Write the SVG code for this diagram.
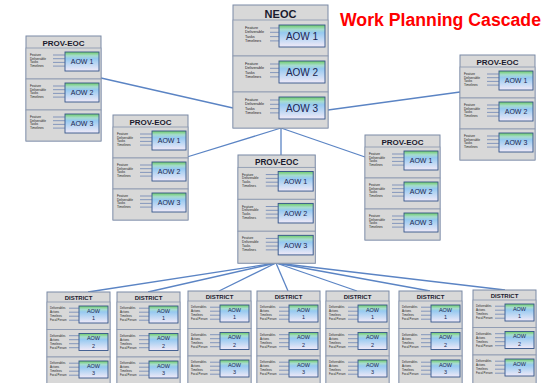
<svg xmlns="http://www.w3.org/2000/svg" width="547" height="383" viewBox="0 0 547 383">
<defs>
<linearGradient id="g" x1="0" y1="0" x2="0" y2="1">
<stop offset="0" stop-color="#6fcc66"/>
<stop offset="0.2" stop-color="#a6dccf"/>
<stop offset="0.35" stop-color="#96c9f0"/>
<stop offset="1" stop-color="#f1eaf8"/>
</linearGradient>
<style>
.box{fill:#d8d8d8;stroke:#7a8aa6;stroke-width:1}
.sec{fill:#d8d8d8;stroke:#8896ae;stroke-width:0.8}
.aow{fill:url(#g);stroke:#34558a;stroke-width:0.9}
.hd{font-family:"Liberation Sans",Arial,sans-serif;font-weight:bold;fill:#1a1a2e;text-anchor:middle}
.at{font-family:"Liberation Sans",Arial,sans-serif;fill:#1a2550;text-anchor:middle}
.tt{font-family:"Liberation Sans",Arial,sans-serif;fill:#222;font-size:3.2px}
.tn{font-size:3.8px}
.td{font-size:2.8px}
.tl{stroke:#4a6aa8;stroke-width:0.6;fill:none}
.cn{stroke:#5b84c4;stroke-width:1.3;fill:none}
.title{font-family:"Liberation Sans",Arial,sans-serif;font-weight:bold;fill:#ff0000;font-size:18px}
</style>
</defs>
<rect width="547" height="383" fill="#ffffff"/>
<text class="title" x="340" y="26" textLength="201" lengthAdjust="spacingAndGlyphs">Work Planning Cascade</text>

<g id="connectors">
<path class="cn" d="M101 78 L233 108"/>
<path class="cn" d="M328 110 L460 92"/>
<path class="cn" d="M281 128 L187 157"/>
<path class="cn" d="M281 128 L281 155"/>
<path class="cn" d="M281 128 L365 157"/>
<path class="cn" d="M276 263 L88 292"/>
<path class="cn" d="M276 263 L148 292"/>
<path class="cn" d="M276 263 L219 291"/>
<path class="cn" d="M276 263 L288 291"/>
<path class="cn" d="M276 263 L357 291"/>
<path class="cn" d="M276 263 L430 291"/>
<path class="cn" d="M276 263 L505 290"/>
</g>

<g id="neoc" transform="translate(233,5)">
<rect class="box" width="95" height="123"/>
<text class="hd" x="47.5" y="12.5" font-size="11">NEOC</text>
<rect class="sec" x="0" y="15" width="95" height="36"/>
<rect class="sec" x="0" y="51" width="95" height="36"/>
<rect class="sec" x="0" y="87" width="95" height="36"/>
<rect class="aow" x="46" y="20" width="46" height="22"/>
<text class="at" x="69" y="34.5" font-size="10">AOW 1</text>
<text class="tt tn"><tspan x="12" y="24">Feature</tspan><tspan x="12" y="28.3">Deliverable</tspan><tspan x="12" y="32.6">Tasks</tspan><tspan x="12" y="36.9">Timelines</tspan></text>
<path class="tl" d="M37 23H46M37 27.3H46M37 31.6H46M37 35.9H46"/>
<rect class="aow" x="46" y="56" width="46" height="22"/>
<text class="at" x="69" y="70.5" font-size="10">AOW 2</text>
<text class="tt tn"><tspan x="12" y="60">Feature</tspan><tspan x="12" y="64.3">Deliverable</tspan><tspan x="12" y="68.6">Tasks</tspan><tspan x="12" y="72.9">Timelines</tspan></text>
<path class="tl" d="M37 59H46M37 63.3H46M37 67.6H46M37 71.9H46"/>
<rect class="aow" x="46" y="92" width="46" height="22"/>
<text class="at" x="69" y="106.5" font-size="10">AOW 3</text>
<text class="tt tn"><tspan x="12" y="96">Feature</tspan><tspan x="12" y="100.3">Deliverable</tspan><tspan x="12" y="104.6">Tasks</tspan><tspan x="12" y="108.9">Timelines</tspan></text>
<path class="tl" d="M37 95H46M37 99.3H46M37 103.6H46M37 107.9H46"/>
</g>

<g id="prov-left" transform="translate(26,36)">
<rect class="box" width="75" height="105"/>
<text class="hd" x="37.5" y="9.5" font-size="8">PROV-EOC</text>
<rect class="sec" x="0" y="12" width="75" height="31"/>
<rect class="sec" x="0" y="43" width="75" height="31"/>
<rect class="sec" x="0" y="74" width="75" height="31"/>
<rect class="aow" x="39" y="16" width="34" height="19"/>
<text class="at" x="56" y="28" font-size="7">AOW 1</text>
<text class="tt"><tspan x="4" y="20">Feature</tspan><tspan x="4" y="23.7">Deliverable</tspan><tspan x="4" y="27.4">Tasks</tspan><tspan x="4" y="31.1">Timelines</tspan></text>
<path class="tl" d="M27 19H39M27 22.7H39M27 26.4H39M27 30.1H39"/>
<rect class="aow" x="39" y="47" width="34" height="19"/>
<text class="at" x="56" y="59" font-size="7">AOW 2</text>
<text class="tt"><tspan x="4" y="51">Feature</tspan><tspan x="4" y="54.7">Deliverable</tspan><tspan x="4" y="58.4">Tasks</tspan><tspan x="4" y="62.1">Timelines</tspan></text>
<path class="tl" d="M27 50H39M27 53.7H39M27 57.4H39M27 61.1H39"/>
<rect class="aow" x="39" y="78" width="34" height="19"/>
<text class="at" x="56" y="90" font-size="7">AOW 3</text>
<text class="tt"><tspan x="4" y="82">Feature</tspan><tspan x="4" y="85.7">Deliverable</tspan><tspan x="4" y="89.4">Tasks</tspan><tspan x="4" y="93.1">Timelines</tspan></text>
<path class="tl" d="M27 81H39M27 84.7H39M27 88.4H39M27 92.1H39"/>
</g>

<g id="prov-right" transform="translate(460,55)">
<rect class="box" width="75" height="105"/>
<text class="hd" x="37.5" y="9.5" font-size="8">PROV-EOC</text>
<rect class="sec" x="0" y="12" width="75" height="31"/>
<rect class="sec" x="0" y="43" width="75" height="31"/>
<rect class="sec" x="0" y="74" width="75" height="31"/>
<rect class="aow" x="39" y="16" width="34" height="19"/>
<text class="at" x="56" y="28" font-size="7">AOW 1</text>
<text class="tt"><tspan x="4" y="20">Feature</tspan><tspan x="4" y="23.7">Deliverable</tspan><tspan x="4" y="27.4">Tasks</tspan><tspan x="4" y="31.1">Timelines</tspan></text>
<path class="tl" d="M27 19H39M27 22.7H39M27 26.4H39M27 30.1H39"/>
<rect class="aow" x="39" y="47" width="34" height="19"/>
<text class="at" x="56" y="59" font-size="7">AOW 2</text>
<text class="tt"><tspan x="4" y="51">Feature</tspan><tspan x="4" y="54.7">Deliverable</tspan><tspan x="4" y="58.4">Tasks</tspan><tspan x="4" y="62.1">Timelines</tspan></text>
<path class="tl" d="M27 50H39M27 53.7H39M27 57.4H39M27 61.1H39"/>
<rect class="aow" x="39" y="78" width="34" height="19"/>
<text class="at" x="56" y="90" font-size="7">AOW 3</text>
<text class="tt"><tspan x="4" y="82">Feature</tspan><tspan x="4" y="85.7">Deliverable</tspan><tspan x="4" y="89.4">Tasks</tspan><tspan x="4" y="93.1">Timelines</tspan></text>
<path class="tl" d="M27 81H39M27 84.7H39M27 88.4H39M27 92.1H39"/>
</g>

<g id="prov-midleft" transform="translate(113,115)">
<rect class="box" width="75" height="105"/>
<text class="hd" x="37.5" y="9.5" font-size="8">PROV-EOC</text>
<rect class="sec" x="0" y="12" width="75" height="31"/>
<rect class="sec" x="0" y="43" width="75" height="31"/>
<rect class="sec" x="0" y="74" width="75" height="31"/>
<rect class="aow" x="39" y="16" width="34" height="19"/>
<text class="at" x="56" y="28" font-size="7">AOW 1</text>
<text class="tt"><tspan x="4" y="20">Feature</tspan><tspan x="4" y="23.7">Deliverable</tspan><tspan x="4" y="27.4">Tasks</tspan><tspan x="4" y="31.1">Timelines</tspan></text>
<path class="tl" d="M27 19H39M27 22.7H39M27 26.4H39M27 30.1H39"/>
<rect class="aow" x="39" y="47" width="34" height="19"/>
<text class="at" x="56" y="59" font-size="7">AOW 2</text>
<text class="tt"><tspan x="4" y="51">Feature</tspan><tspan x="4" y="54.7">Deliverable</tspan><tspan x="4" y="58.4">Tasks</tspan><tspan x="4" y="62.1">Timelines</tspan></text>
<path class="tl" d="M27 50H39M27 53.7H39M27 57.4H39M27 61.1H39"/>
<rect class="aow" x="39" y="78" width="34" height="19"/>
<text class="at" x="56" y="90" font-size="7">AOW 3</text>
<text class="tt"><tspan x="4" y="82">Feature</tspan><tspan x="4" y="85.7">Deliverable</tspan><tspan x="4" y="89.4">Tasks</tspan><tspan x="4" y="93.1">Timelines</tspan></text>
<path class="tl" d="M27 81H39M27 84.7H39M27 88.4H39M27 92.1H39"/>
</g>

<g id="prov-midright" transform="translate(365,135)">
<rect class="box" width="75" height="105"/>
<text class="hd" x="37.5" y="9.5" font-size="8">PROV-EOC</text>
<rect class="sec" x="0" y="12" width="75" height="31"/>
<rect class="sec" x="0" y="43" width="75" height="31"/>
<rect class="sec" x="0" y="74" width="75" height="31"/>
<rect class="aow" x="39" y="16" width="34" height="19"/>
<text class="at" x="56" y="28" font-size="7">AOW 1</text>
<text class="tt"><tspan x="4" y="20">Feature</tspan><tspan x="4" y="23.7">Deliverable</tspan><tspan x="4" y="27.4">Tasks</tspan><tspan x="4" y="31.1">Timelines</tspan></text>
<path class="tl" d="M27 19H39M27 22.7H39M27 26.4H39M27 30.1H39"/>
<rect class="aow" x="39" y="47" width="34" height="19"/>
<text class="at" x="56" y="59" font-size="7">AOW 2</text>
<text class="tt"><tspan x="4" y="51">Feature</tspan><tspan x="4" y="54.7">Deliverable</tspan><tspan x="4" y="58.4">Tasks</tspan><tspan x="4" y="62.1">Timelines</tspan></text>
<path class="tl" d="M27 50H39M27 53.7H39M27 57.4H39M27 61.1H39"/>
<rect class="aow" x="39" y="78" width="34" height="19"/>
<text class="at" x="56" y="90" font-size="7">AOW 3</text>
<text class="tt"><tspan x="4" y="82">Feature</tspan><tspan x="4" y="85.7">Deliverable</tspan><tspan x="4" y="89.4">Tasks</tspan><tspan x="4" y="93.1">Timelines</tspan></text>
<path class="tl" d="M27 81H39M27 84.7H39M27 88.4H39M27 92.1H39"/>
</g>

<g id="prov-central" transform="translate(238,155) scale(1.03)">
<rect class="box" width="75" height="105"/>
<text class="hd" x="37.5" y="9.5" font-size="8">PROV-EOC</text>
<rect class="sec" x="0" y="12" width="75" height="31"/>
<rect class="sec" x="0" y="43" width="75" height="31"/>
<rect class="sec" x="0" y="74" width="75" height="31"/>
<rect class="aow" x="39" y="16" width="34" height="19"/>
<text class="at" x="56" y="28" font-size="7">AOW 1</text>
<text class="tt"><tspan x="4" y="20">Feature</tspan><tspan x="4" y="23.7">Deliverable</tspan><tspan x="4" y="27.4">Tasks</tspan><tspan x="4" y="31.1">Timelines</tspan></text>
<path class="tl" d="M27 19H39M27 22.7H39M27 26.4H39M27 30.1H39"/>
<rect class="aow" x="39" y="47" width="34" height="19"/>
<text class="at" x="56" y="59" font-size="7">AOW 2</text>
<text class="tt"><tspan x="4" y="51">Feature</tspan><tspan x="4" y="54.7">Deliverable</tspan><tspan x="4" y="58.4">Tasks</tspan><tspan x="4" y="62.1">Timelines</tspan></text>
<path class="tl" d="M27 50H39M27 53.7H39M27 57.4H39M27 61.1H39"/>
<rect class="aow" x="39" y="78" width="34" height="19"/>
<text class="at" x="56" y="90" font-size="7">AOW 3</text>
<text class="tt"><tspan x="4" y="82">Feature</tspan><tspan x="4" y="85.7">Deliverable</tspan><tspan x="4" y="89.4">Tasks</tspan><tspan x="4" y="93.1">Timelines</tspan></text>
<path class="tl" d="M27 81H39M27 84.7H39M27 88.4H39M27 92.1H39"/>
</g>

<g id="district-1" transform="translate(47,292)">
<rect class="box" width="63" height="100"/>
<text class="hd" x="31.5" y="7.8" font-size="6">DISTRICT</text>
<rect class="sec" x="0" y="10" width="63" height="27.5"/>
<rect class="sec" x="0" y="37.5" width="63" height="27.5"/>
<rect class="sec" x="0" y="65" width="63" height="35"/>
<rect class="aow" x="32" y="14" width="29" height="17"/>
<text class="at" font-size="5.5"><tspan x="46.5" y="20.5">AOW</tspan><tspan x="46.5" y="28">1</tspan></text>
<text class="tt td"><tspan x="3" y="17">Deliverables</tspan><tspan x="3" y="21">Actions</tspan><tspan x="3" y="25">Timelines</tspan><tspan x="3" y="29">Focal Person</tspan></text>
<path class="tl" d="M22 16.2H32M22 20.2H32M22 24.2H32M22 28.2H32"/>
<rect class="aow" x="32" y="41.5" width="29" height="17"/>
<text class="at" font-size="5.5"><tspan x="46.5" y="48">AOW</tspan><tspan x="46.5" y="55.5">2</tspan></text>
<text class="tt td"><tspan x="3" y="44.5">Deliverables</tspan><tspan x="3" y="48.5">Actions</tspan><tspan x="3" y="52.5">Timelines</tspan><tspan x="3" y="56.5">Focal Person</tspan></text>
<path class="tl" d="M22 43.7H32M22 47.7H32M22 51.7H32M22 55.7H32"/>
<rect class="aow" x="32" y="69" width="29" height="17"/>
<text class="at" font-size="5.5"><tspan x="46.5" y="75.5">AOW</tspan><tspan x="46.5" y="83">3</tspan></text>
<text class="tt td"><tspan x="3" y="72">Deliverables</tspan><tspan x="3" y="76">Actions</tspan><tspan x="3" y="80">Timelines</tspan><tspan x="3" y="84">Focal Person</tspan></text>
<path class="tl" d="M22 71.2H32M22 75.2H32M22 79.2H32M22 83.2H32"/>
</g>

<g id="district-2" transform="translate(117,292)">
<rect class="box" width="63" height="100"/>
<text class="hd" x="31.5" y="7.8" font-size="6">DISTRICT</text>
<rect class="sec" x="0" y="10" width="63" height="27.5"/>
<rect class="sec" x="0" y="37.5" width="63" height="27.5"/>
<rect class="sec" x="0" y="65" width="63" height="35"/>
<rect class="aow" x="32" y="14" width="29" height="17"/>
<text class="at" font-size="5.5"><tspan x="46.5" y="20.5">AOW</tspan><tspan x="46.5" y="28">1</tspan></text>
<text class="tt td"><tspan x="3" y="17">Deliverables</tspan><tspan x="3" y="21">Actions</tspan><tspan x="3" y="25">Timelines</tspan><tspan x="3" y="29">Focal Person</tspan></text>
<path class="tl" d="M22 16.2H32M22 20.2H32M22 24.2H32M22 28.2H32"/>
<rect class="aow" x="32" y="41.5" width="29" height="17"/>
<text class="at" font-size="5.5"><tspan x="46.5" y="48">AOW</tspan><tspan x="46.5" y="55.5">2</tspan></text>
<text class="tt td"><tspan x="3" y="44.5">Deliverables</tspan><tspan x="3" y="48.5">Actions</tspan><tspan x="3" y="52.5">Timelines</tspan><tspan x="3" y="56.5">Focal Person</tspan></text>
<path class="tl" d="M22 43.7H32M22 47.7H32M22 51.7H32M22 55.7H32"/>
<rect class="aow" x="32" y="69" width="29" height="17"/>
<text class="at" font-size="5.5"><tspan x="46.5" y="75.5">AOW</tspan><tspan x="46.5" y="83">3</tspan></text>
<text class="tt td"><tspan x="3" y="72">Deliverables</tspan><tspan x="3" y="76">Actions</tspan><tspan x="3" y="80">Timelines</tspan><tspan x="3" y="84">Focal Person</tspan></text>
<path class="tl" d="M22 71.2H32M22 75.2H32M22 79.2H32M22 83.2H32"/>
</g>

<g id="district-3" transform="translate(188,291)">
<rect class="box" width="63" height="100"/>
<text class="hd" x="31.5" y="7.8" font-size="6">DISTRICT</text>
<rect class="sec" x="0" y="10" width="63" height="27.5"/>
<rect class="sec" x="0" y="37.5" width="63" height="27.5"/>
<rect class="sec" x="0" y="65" width="63" height="35"/>
<rect class="aow" x="32" y="14" width="29" height="17"/>
<text class="at" font-size="5.5"><tspan x="46.5" y="20.5">AOW</tspan><tspan x="46.5" y="28">1</tspan></text>
<text class="tt td"><tspan x="3" y="17">Deliverables</tspan><tspan x="3" y="21">Actions</tspan><tspan x="3" y="25">Timelines</tspan><tspan x="3" y="29">Focal Person</tspan></text>
<path class="tl" d="M22 16.2H32M22 20.2H32M22 24.2H32M22 28.2H32"/>
<rect class="aow" x="32" y="41.5" width="29" height="17"/>
<text class="at" font-size="5.5"><tspan x="46.5" y="48">AOW</tspan><tspan x="46.5" y="55.5">2</tspan></text>
<text class="tt td"><tspan x="3" y="44.5">Deliverables</tspan><tspan x="3" y="48.5">Actions</tspan><tspan x="3" y="52.5">Timelines</tspan><tspan x="3" y="56.5">Focal Person</tspan></text>
<path class="tl" d="M22 43.7H32M22 47.7H32M22 51.7H32M22 55.7H32"/>
<rect class="aow" x="32" y="69" width="29" height="17"/>
<text class="at" font-size="5.5"><tspan x="46.5" y="75.5">AOW</tspan><tspan x="46.5" y="83">3</tspan></text>
<text class="tt td"><tspan x="3" y="72">Deliverables</tspan><tspan x="3" y="76">Actions</tspan><tspan x="3" y="80">Timelines</tspan><tspan x="3" y="84">Focal Person</tspan></text>
<path class="tl" d="M22 71.2H32M22 75.2H32M22 79.2H32M22 83.2H32"/>
</g>

<g id="district-4" transform="translate(257,291)">
<rect class="box" width="63" height="100"/>
<text class="hd" x="31.5" y="7.8" font-size="6">DISTRICT</text>
<rect class="sec" x="0" y="10" width="63" height="27.5"/>
<rect class="sec" x="0" y="37.5" width="63" height="27.5"/>
<rect class="sec" x="0" y="65" width="63" height="35"/>
<rect class="aow" x="32" y="14" width="29" height="17"/>
<text class="at" font-size="5.5"><tspan x="46.5" y="20.5">AOW</tspan><tspan x="46.5" y="28">1</tspan></text>
<text class="tt td"><tspan x="3" y="17">Deliverables</tspan><tspan x="3" y="21">Actions</tspan><tspan x="3" y="25">Timelines</tspan><tspan x="3" y="29">Focal Person</tspan></text>
<path class="tl" d="M22 16.2H32M22 20.2H32M22 24.2H32M22 28.2H32"/>
<rect class="aow" x="32" y="41.5" width="29" height="17"/>
<text class="at" font-size="5.5"><tspan x="46.5" y="48">AOW</tspan><tspan x="46.5" y="55.5">2</tspan></text>
<text class="tt td"><tspan x="3" y="44.5">Deliverables</tspan><tspan x="3" y="48.5">Actions</tspan><tspan x="3" y="52.5">Timelines</tspan><tspan x="3" y="56.5">Focal Person</tspan></text>
<path class="tl" d="M22 43.7H32M22 47.7H32M22 51.7H32M22 55.7H32"/>
<rect class="aow" x="32" y="69" width="29" height="17"/>
<text class="at" font-size="5.5"><tspan x="46.5" y="75.5">AOW</tspan><tspan x="46.5" y="83">3</tspan></text>
<text class="tt td"><tspan x="3" y="72">Deliverables</tspan><tspan x="3" y="76">Actions</tspan><tspan x="3" y="80">Timelines</tspan><tspan x="3" y="84">Focal Person</tspan></text>
<path class="tl" d="M22 71.2H32M22 75.2H32M22 79.2H32M22 83.2H32"/>
</g>

<g id="district-5" transform="translate(326,291)">
<rect class="box" width="63" height="100"/>
<text class="hd" x="31.5" y="7.8" font-size="6">DISTRICT</text>
<rect class="sec" x="0" y="10" width="63" height="27.5"/>
<rect class="sec" x="0" y="37.5" width="63" height="27.5"/>
<rect class="sec" x="0" y="65" width="63" height="35"/>
<rect class="aow" x="32" y="14" width="29" height="17"/>
<text class="at" font-size="5.5"><tspan x="46.5" y="20.5">AOW</tspan><tspan x="46.5" y="28">1</tspan></text>
<text class="tt td"><tspan x="3" y="17">Deliverables</tspan><tspan x="3" y="21">Actions</tspan><tspan x="3" y="25">Timelines</tspan><tspan x="3" y="29">Focal Person</tspan></text>
<path class="tl" d="M22 16.2H32M22 20.2H32M22 24.2H32M22 28.2H32"/>
<rect class="aow" x="32" y="41.5" width="29" height="17"/>
<text class="at" font-size="5.5"><tspan x="46.5" y="48">AOW</tspan><tspan x="46.5" y="55.5">2</tspan></text>
<text class="tt td"><tspan x="3" y="44.5">Deliverables</tspan><tspan x="3" y="48.5">Actions</tspan><tspan x="3" y="52.5">Timelines</tspan><tspan x="3" y="56.5">Focal Person</tspan></text>
<path class="tl" d="M22 43.7H32M22 47.7H32M22 51.7H32M22 55.7H32"/>
<rect class="aow" x="32" y="69" width="29" height="17"/>
<text class="at" font-size="5.5"><tspan x="46.5" y="75.5">AOW</tspan><tspan x="46.5" y="83">3</tspan></text>
<text class="tt td"><tspan x="3" y="72">Deliverables</tspan><tspan x="3" y="76">Actions</tspan><tspan x="3" y="80">Timelines</tspan><tspan x="3" y="84">Focal Person</tspan></text>
<path class="tl" d="M22 71.2H32M22 75.2H32M22 79.2H32M22 83.2H32"/>
</g>

<g id="district-6" transform="translate(399,291)">
<rect class="box" width="63" height="100"/>
<text class="hd" x="31.5" y="7.8" font-size="6">DISTRICT</text>
<rect class="sec" x="0" y="10" width="63" height="27.5"/>
<rect class="sec" x="0" y="37.5" width="63" height="27.5"/>
<rect class="sec" x="0" y="65" width="63" height="35"/>
<rect class="aow" x="32" y="14" width="29" height="17"/>
<text class="at" font-size="5.5"><tspan x="46.5" y="20.5">AOW</tspan><tspan x="46.5" y="28">1</tspan></text>
<text class="tt td"><tspan x="3" y="17">Deliverables</tspan><tspan x="3" y="21">Actions</tspan><tspan x="3" y="25">Timelines</tspan><tspan x="3" y="29">Focal Person</tspan></text>
<path class="tl" d="M22 16.2H32M22 20.2H32M22 24.2H32M22 28.2H32"/>
<rect class="aow" x="32" y="41.5" width="29" height="17"/>
<text class="at" font-size="5.5"><tspan x="46.5" y="48">AOW</tspan><tspan x="46.5" y="55.5">2</tspan></text>
<text class="tt td"><tspan x="3" y="44.5">Deliverables</tspan><tspan x="3" y="48.5">Actions</tspan><tspan x="3" y="52.5">Timelines</tspan><tspan x="3" y="56.5">Focal Person</tspan></text>
<path class="tl" d="M22 43.7H32M22 47.7H32M22 51.7H32M22 55.7H32"/>
<rect class="aow" x="32" y="69" width="29" height="17"/>
<text class="at" font-size="5.5"><tspan x="46.5" y="75.5">AOW</tspan><tspan x="46.5" y="83">3</tspan></text>
<text class="tt td"><tspan x="3" y="72">Deliverables</tspan><tspan x="3" y="76">Actions</tspan><tspan x="3" y="80">Timelines</tspan><tspan x="3" y="84">Focal Person</tspan></text>
<path class="tl" d="M22 71.2H32M22 75.2H32M22 79.2H32M22 83.2H32"/>
</g>

<g id="district-7" transform="translate(473,290)">
<rect class="box" width="63" height="100"/>
<text class="hd" x="31.5" y="7.8" font-size="6">DISTRICT</text>
<rect class="sec" x="0" y="10" width="63" height="27.5"/>
<rect class="sec" x="0" y="37.5" width="63" height="27.5"/>
<rect class="sec" x="0" y="65" width="63" height="35"/>
<rect class="aow" x="32" y="14" width="29" height="17"/>
<text class="at" font-size="5.5"><tspan x="46.5" y="20.5">AOW</tspan><tspan x="46.5" y="28">1</tspan></text>
<text class="tt td"><tspan x="3" y="17">Deliverables</tspan><tspan x="3" y="21">Actions</tspan><tspan x="3" y="25">Timelines</tspan><tspan x="3" y="29">Focal Person</tspan></text>
<path class="tl" d="M22 16.2H32M22 20.2H32M22 24.2H32M22 28.2H32"/>
<rect class="aow" x="32" y="41.5" width="29" height="17"/>
<text class="at" font-size="5.5"><tspan x="46.5" y="48">AOW</tspan><tspan x="46.5" y="55.5">2</tspan></text>
<text class="tt td"><tspan x="3" y="44.5">Deliverables</tspan><tspan x="3" y="48.5">Actions</tspan><tspan x="3" y="52.5">Timelines</tspan><tspan x="3" y="56.5">Focal Person</tspan></text>
<path class="tl" d="M22 43.7H32M22 47.7H32M22 51.7H32M22 55.7H32"/>
<rect class="aow" x="32" y="69" width="29" height="17"/>
<text class="at" font-size="5.5"><tspan x="46.5" y="75.5">AOW</tspan><tspan x="46.5" y="83">3</tspan></text>
<text class="tt td"><tspan x="3" y="72">Deliverables</tspan><tspan x="3" y="76">Actions</tspan><tspan x="3" y="80">Timelines</tspan><tspan x="3" y="84">Focal Person</tspan></text>
<path class="tl" d="M22 71.2H32M22 75.2H32M22 79.2H32M22 83.2H32"/>
</g>
</svg>
